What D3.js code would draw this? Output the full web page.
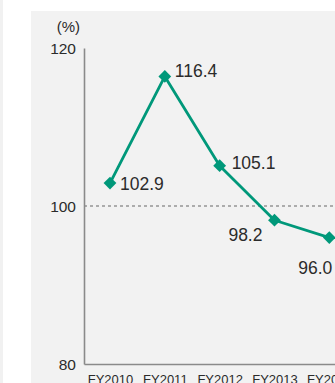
<!DOCTYPE html>
<html>
<head>
<meta charset="utf-8">
<script src="https://cdn.jsdelivr.net/npm/d3@7"></script>
<style>
  html, body { margin: 0; padding: 0; background: #ffffff; }
  svg { display: block; }
  text { font-family: "Liberation Sans", Arial, Helvetica, sans-serif; fill: #2b2b2b; }
</style>
</head>
<body>
<svg id="chart" width="335" height="383"></svg>
<script>
// ---- data ----
const categories = ["FY2010", "FY2011", "FY2012", "FY2013", "FY2014"];
const values = [102.9, 116.4, 105.1, 98.2, 96.0];
const valueLabels = ["102.9", "116.4", "105.1", "98.2", "96.0"];
const yTicks = [80, 100, 120];
const unitLabel = "(%)";

// ---- layout / style ----
const W = 335, H = 383;
const green = "#00987a";
const svg = d3.select("#chart");

// backgrounds
svg.append("rect").attr("x", 0).attr("y", 0).attr("width", 3).attr("height", H).attr("fill", "#f1f1f1");
svg.append("rect").attr("x", 31).attr("y", 11).attr("width", W - 31).attr("height", H - 11).attr("fill", "#f2f2f2");

const x = d3.scalePoint().domain(categories).range([84, 355.3]).padding(0.474);
const y = d3.scaleLinear().domain([80, 120]).range([364, 48]);

// dashed reference line at 100
svg.append("line")
  .attr("x1", 84).attr("x2", W)
  .attr("y1", y(100)).attr("y2", y(100))
  .attr("stroke", "#666").attr("stroke-width", 1).attr("stroke-dasharray", "3,3");

// y axis
const yAxis = d3.axisLeft(y).tickValues(yTicks).tickSize(0).tickPadding(8).tickSizeOuter(0);
const gy = svg.append("g").attr("transform", "translate(84,0)").call(yAxis);
gy.select(".domain").attr("stroke", "#8a8a8a").attr("stroke-width", 1.6);
gy.selectAll(".tick text").attr("font-size", 15.5).attr("fill", "#2b2b2b")
  .attr("font-family", "Liberation Sans, Arial, sans-serif").attr("dy", "0.38em");

// x axis
const xAxis = d3.axisBottom(x).tickSize(0).tickPadding(11).tickSizeOuter(0);
const gx = svg.append("g").attr("transform", "translate(0,364)").call(xAxis);
gx.select(".domain").attr("stroke", "#8a8a8a").attr("stroke-width", 1.6);
gx.selectAll(".tick text").attr("font-size", 13).attr("fill", "#2b2b2b")
  .attr("font-family", "Liberation Sans, Arial, sans-serif");

// unit label
svg.append("text").attr("x", 80).attr("y", 32).attr("text-anchor", "end")
  .attr("font-size", 15).text(unitLabel);

// line
const line = d3.line().x((d, i) => x(categories[i])).y(d => y(d));
svg.append("path").datum(values)
  .attr("d", line).attr("fill", "none")
  .attr("stroke", green).attr("stroke-width", 2.8).attr("stroke-linejoin", "round");

// markers (diamonds)
svg.selectAll(".marker").data(values).join("path")
  .attr("class", "marker")
  .attr("d", d3.symbol(d3.symbolSquare, 82))
  .attr("transform", (d, i) => `translate(${x(categories[i])},${y(d)}) rotate(45)`)
  .attr("fill", green);

// value labels (offsets relative to marker)
const labelPos = [
  { dx: 10, dy: 1, anchor: "start" },
  { dx: 10, dy: -6, anchor: "start" },
  { dx: 12, dy: -3, anchor: "start" },
  { dx: -12, dy: 14, anchor: "end" },
  { dx: -31, dy: 30, anchor: "start" }
];
svg.selectAll(".vlabel").data(values).join("text")
  .attr("class", "vlabel")
  .attr("x", (d, i) => x(categories[i]) + labelPos[i].dx)
  .attr("y", (d, i) => y(d) + labelPos[i].dy)
  .attr("dy", "0.36em")
  .attr("text-anchor", (d, i) => labelPos[i].anchor)
  .attr("font-size", 17.5)
  .text((d, i) => valueLabels[i]);
</script>
</body>
</html>
